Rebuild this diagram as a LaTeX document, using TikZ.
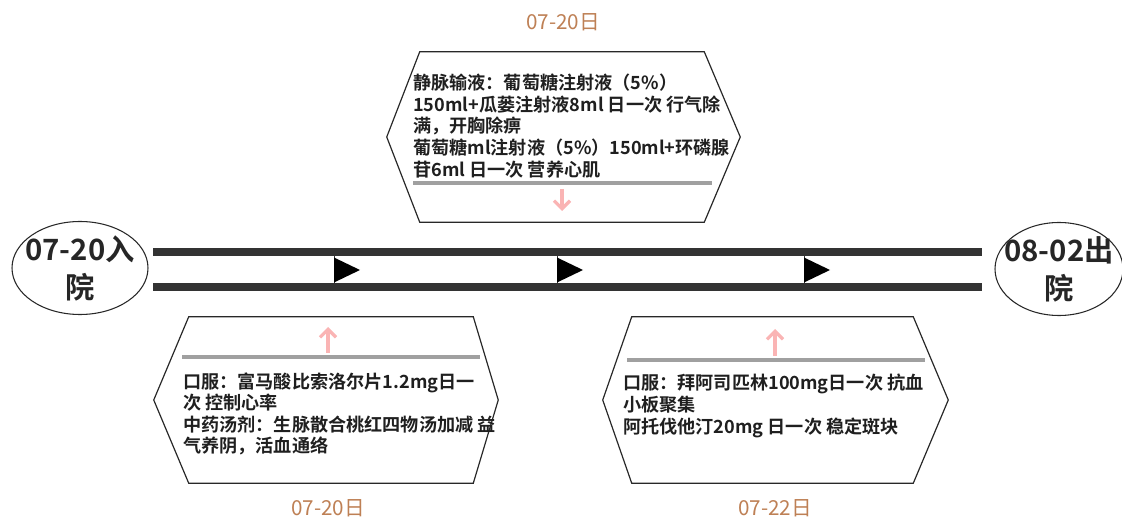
\documentclass[tikz,border=0pt]{standalone}
\usepackage{fontspec}
\setmainfont{Noto Sans CJK SC}[BoldFont={Noto Sans CJK SC Bold}]
\usetikzlibrary{calc,arrows.meta,shapes.geometric}

\definecolor{railc}{RGB}{51,51,51}
\definecolor{datec}{RGB}{190,128,85}
\definecolor{sepc}{RGB}{160,160,160}
\definecolor{pinkc}{RGB}{250,180,180}
\definecolor{hexc}{RGB}{40,40,40}

\begin{document}
\begin{tikzpicture}[x=0.75pt,y=-0.75pt,
  endpt/.style={ellipse, draw=hexc, line width=0.8pt, inner sep=0pt, align=center,
    font=\bfseries\fontsize{22}{28.5}\selectfont, text=black!85},
  railline/.style={line width=6pt, draw=railc},
  markline/.style={line width=0.6pt, draw=railc},
  marktip/.style={fill=black},
  hexbody/.style={inner sep=0pt, draw=none},
  hexline/.style={draw=hexc, line width=0.9pt, line join=miter},
  hextext/.style={inner sep=0pt, align=left, anchor=west,
    font=\bfseries\fontsize{13.6}{16.2}\selectfont, text=black!88},
  sepline/.style={draw=sepc, line width=2.6pt},
  pinkarrow/.style={draw=pinkc, line width=2.4pt, -{Straight Barb[length=6pt,width=12pt,line width=2.4pt]}},
  datelbl/.style={inner sep=0pt, text=datec, font=\fontsize{15.5}{18}\selectfont}
]
\useasboundingbox (0,0) rectangle (1122,520);

% end points
\node[endpt, minimum width=136*0.75pt, minimum height=93*0.75pt] (start) at (80,268)
  {\makebox[0pt][c]{07-20入}\\\makebox[0pt][c]{院}};
\node[endpt, minimum width=128*0.75pt, minimum height=93*0.75pt] (finish) at (1059,269)
  {\makebox[0pt][c]{08-02出}\\\makebox[0pt][c]{院}};

% rails
\coordinate (r1a) at (153,252.5);
\coordinate (r1b) at (982,252.5);
\coordinate (r2a) at (153,287.5);
\coordinate (r2b) at (982,287.5);
\draw[railline] (r1a) -- (r1b);
\draw[railline] (r2a) -- (r2b);

% direction markers
\foreach \x in {334,557,804}{
  \draw[markline] (\x,256) -- (\x,284);
  \fill[marktip] (\x,257.5) -- (\x+26,270) -- (\x,282.5) -- cycle;
}

% top hexagon
\node[hexbody, minimum width=284*0.75pt, minimum height=170*0.75pt] (top) at (562,137) {};
\draw[hexline] (top.north west) -- (top.north east) -- ($(top.east)+(36,0)$)
  -- (top.south east) -- (top.south west) -- ($(top.west)+(-33,0)$) -- cycle;
\node[hextext] (toptext) at (413,126) {静脉输液：葡萄糖注射液（5\%）\\150ml+瓜蒌注射液8ml 日一次 行气除\\满，开胸除痹\\葡萄糖ml注射液（5\%）150ml+环磷腺\\苷6ml 日一次 营养心肌};
\coordinate (tsepa) at (413,183);
\coordinate (tsepb) at (712,183);
\draw[sepline] (tsepa) -- (tsepb);
\coordinate (tpa) at (562,189);
\coordinate (tpb) at (562,211);
\draw[pinkarrow] (tpa) -- (tpb);
\node[datelbl] (topdate) at (563,22) {07-20日};

% bottom-left hexagon
\node[hexbody, minimum width=284*0.75pt, minimum height=166*0.75pt] (bl) at (331,400) {};
\draw[hexline] (bl.north west) -- (bl.north east) -- ($(bl.east)+(25,0)$)
  -- (bl.south east) -- (bl.south west) -- ($(bl.west)+(-35,0)$) -- cycle;
\node[hextext] (bltext) at (183,414) {口服：富马酸比索洛尔片1.2mg日一\\次 控制心率\\中药汤剂：生脉散合桃红四物汤加减 益\\气养阴，活血通络};
\coordinate (blsepa) at (182,357);
\coordinate (blsepb) at (480,357);
\draw[sepline] (blsepa) -- (blsepb);
\coordinate (blpa) at (328,353);
\coordinate (blpb) at (328,327);
\draw[pinkarrow] (blpa) -- (blpb);
\node[datelbl] (bldate) at (328,508) {07-20日};

% bottom-right hexagon
\node[hexbody, minimum width=281*0.75pt, minimum height=166*0.75pt] (br) at (772.5,400) {};
\draw[hexline] (br.north west) -- (br.north east) -- ($(br.east)+(35,0)$)
  -- (br.south east) -- (br.south west) -- ($(br.west)+(-29,0)$) -- cycle;
\node[hextext] (brtext) at (623,406) {口服：拜阿司匹林100mg日一次 抗血\\小板聚集\\阿托伐他汀20mg 日一次 稳定斑块};
\coordinate (brsepa) at (627,360);
\coordinate (brsepb) at (925,360);
\draw[sepline] (brsepa) -- (brsepb);
\coordinate (brpa) at (775,356);
\coordinate (brpb) at (775,329);
\draw[pinkarrow] (brpa) -- (brpb);
\node[datelbl] (brdate) at (775,508) {07-22日};
\end{tikzpicture}
\end{document}
